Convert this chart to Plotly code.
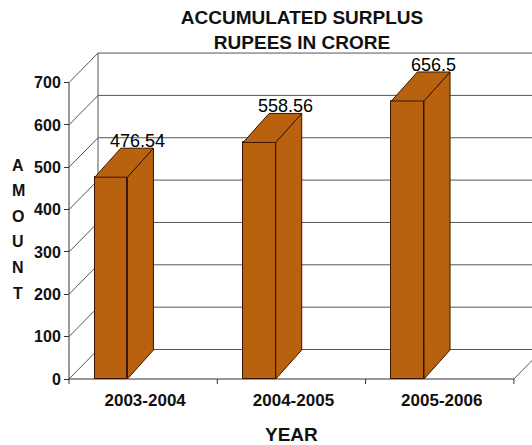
import plotly.graph_objects as go

# ---------------- data ----------------
years = ["2003-2004", "2004-2005", "2005-2006"]
surplus = [476.54, 558.56, 656.5]
value_labels = ["476.54", "558.56", "656.5"]
y_ticks = [0, 100, 200, 300, 400, 500, 600, 700]
y_axis_letters = ["A", "M", "O", "U", "N", "T"]

# ---------------- geometry (pixels) ----------------
W, H = 532, 445
AX_X = 69          # pixel x of the front value axis (x = 0)
CAT_PX = 148.3     # pixels per category
ZERO_Y = 379       # pixel y of value 0 on the front plane
PX_PER_UNIT = 0.4235
PL, PR, PT, PB = 56, 532, 46, 388   # plot area in pixels

xr = [(PL - AX_X) / CAT_PX, (PR - AX_X) / CAT_PX]
yr = [(ZERO_Y - PB) / PX_PER_UNIT, (ZERO_Y - PT) / PX_PER_UNIT]

WALL_DX = 29 / CAT_PX
WALL_DY = 29.5 / PX_PER_UNIT
BAR_DX = 26 / CAT_PX
BAR_DY = 29 / PX_PER_UNIT
BAR_OFF = 0.174
BAR_W = 0.22
TOP = y_ticks[-1]
n = len(years)

BAR_COLOR = "#B8620F"
EDGE = "#3A1200"
GRID = "#555555"
FONT = "Liberation Sans, Arial, sans-serif"


def px_x(p):
    return (p - PL) / (PR - PL)


def px_y(p):
    return (PB - p) / (PB - PT)


shapes = []


def line(x0, y0, x1, y1, color=GRID, width=1):
    shapes.append(dict(type="line", xref="x", yref="y", x0=x0, y0=y0, x1=x1, y1=y1,
                       line=dict(color=color, width=width), layer="below"))


# back wall horizontal gridlines (incl. floor back edge and wall top)
for v in y_ticks:
    line(WALL_DX, v + WALL_DY, xr[1] + 1, v + WALL_DY)
# back wall left edge
line(WALL_DX, WALL_DY, WALL_DX, TOP + WALL_DY)
# left wall diagonals
for v in y_ticks:
    line(0, v, WALL_DX, v + WALL_DY)
# front value axis
line(0, 0, 0, TOP, color="#333333")
# floor front edge and right edge
line(0, 0, n, 0, color="#333333")
line(n, 0, n + WALL_DX, WALL_DY)
# floor tick marks
for i in range(n + 1):
    line(i, 0, i, -5 / PX_PER_UNIT, color="#333333")

fig = go.Figure()

# front faces
fig.add_trace(go.Bar(
    x=[i + BAR_OFF + BAR_W / 2 for i in range(n)], y=surplus, width=BAR_W,
    marker=dict(color=BAR_COLOR, line=dict(color=EDGE, width=1)),
    hoverinfo="skip", showlegend=False))

# side and top faces
for i, v in enumerate(surplus):
    x0 = i + BAR_OFF
    x1 = x0 + BAR_W
    fig.add_trace(go.Scatter(
        x=[x1, x1 + BAR_DX, x1 + BAR_DX, x1, x1],
        y=[0, BAR_DY, v + BAR_DY, v, 0],
        mode="lines", fill="toself", fillcolor=BAR_COLOR,
        line=dict(color=EDGE, width=1), hoverinfo="skip", showlegend=False))
    fig.add_trace(go.Scatter(
        x=[x0, x1, x1 + BAR_DX, x0 + BAR_DX, x0],
        y=[v, v, v + BAR_DY, v + BAR_DY, v],
        mode="lines", fill="toself", fillcolor=BAR_COLOR,
        line=dict(color=EDGE, width=1), hoverinfo="skip", showlegend=False))

annotations = []
for i, (v, t) in enumerate(zip(surplus, value_labels)):
    annotations.append(dict(
        x=i + BAR_OFF + BAR_W / 2 + BAR_DX, y=v + BAR_DY, xref="x", yref="y",
        text=t, showarrow=False, yanchor="middle", yshift=7,
        font=dict(family=FONT, size=18, color="#000000")))

for k, ch in enumerate(y_axis_letters):
    annotations.append(dict(
        x=px_x(18), y=px_y(165 + 25.6 * k), xref="paper", yref="paper",
        text="<b>" + ch + "</b>", showarrow=False, xanchor="center", yanchor="middle",
        font=dict(family=FONT, size=16, color="#111111")))

annotations.append(dict(
    x=px_x(291), y=px_y(434), xref="paper", yref="paper", text="<b>YEAR</b>",
    showarrow=False, xanchor="center", yanchor="middle",
    font=dict(family=FONT, size=19, color="#111111")))

fig.update_layout(
    width=W, height=H,
    margin=dict(l=PL, r=W - PR, t=PT, b=H - PB),
    paper_bgcolor="white", plot_bgcolor="white",
    title=dict(text="<b>ACCUMULATED SURPLUS<br>RUPEES IN CRORE</b>",
               x=302 / W, xanchor="center", xref="container",
               y=1 - 24 / H, yanchor="top", yref="container",
               font=dict(family=FONT, size=19, color="#111111")),
    xaxis=dict(range=xr, tickvals=[i + 0.5 + 2 / CAT_PX for i in range(n)], ticktext=years,
               showgrid=False, zeroline=False, showline=False, ticks="",
               tickfont=dict(family=FONT, size=17, color="#111111", weight="bold"),
               fixedrange=True),
    yaxis=dict(range=yr, tickvals=y_ticks, showgrid=False, zeroline=False, showline=False,
               ticks="outside", ticklen=5, tickcolor="#333333",
               anchor="free", position=(AX_X - PL) / (PR - PL),
               tickfont=dict(family=FONT, size=16, color="#111111", weight="bold"),
               fixedrange=True),
    shapes=shapes,
    annotations=annotations,
    showlegend=False,
    bargap=0,
)

fig.write_html("out.html")
